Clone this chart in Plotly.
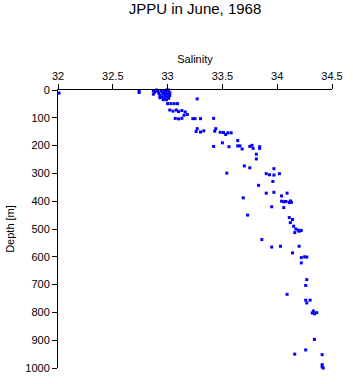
import plotly.graph_objects as go

salinity = [
    32.01, 32.74, 32.74,
    32.87, 32.88, 32.87, 32.90, 32.91, 32.92, 32.93, 32.94, 32.95, 32.95, 32.96, 32.97, 32.97,
    32.98, 32.98, 32.99, 33.00, 33.00, 33.00, 33.01, 33.01, 33.02, 32.96, 32.93, 32.99, 33.02,
    33.00, 33.03, 33.06, 33.09,
    33.02, 33.05, 33.08, 33.10, 33.13, 33.16,
    33.27, 33.15, 33.18,
    33.07, 33.10, 33.13, 33.23, 33.25, 33.30, 33.42,
    33.27, 33.26, 33.30, 33.33, 33.44, 33.43, 33.48, 33.51, 33.55, 33.58, 33.53,
    33.64, 33.50, 33.42, 33.56, 33.64, 33.66, 33.68, 33.75, 33.77, 33.78, 33.84, 33.84, 33.81, 33.81,
    33.70, 33.75, 33.97, 33.54, 33.90, 33.93, 33.97, 34.02, 33.96, 33.83, 33.90, 33.97, 34.09, 34.04, 33.69,
    34.04, 34.06, 34.08, 34.11, 34.12, 34.13, 33.95, 34.06, 33.73, 34.11, 34.14, 34.12, 34.15,
    34.17, 34.19, 34.20, 34.22, 34.16,
    33.86, 33.95, 34.03, 34.20, 34.14, 34.22, 34.25, 34.27, 34.22, 34.27, 34.26, 34.09,
    34.26, 34.27, 34.30, 34.33, 34.32, 34.34, 34.36,
    34.34, 34.26, 34.16, 34.41, 34.41, 34.41, 34.42, 34.43,
]
depth = [
    11, 3, 9,
    2, 8, 15, 0, 5, 12, 20, 3, 8, 25, 15, 30, 2,
    10, 20, 35, 5, 15, 25, 0, 30, 10, 35, 28, 0, 20,
    49, 49, 49, 49,
    72, 76, 72, 78, 74, 79,
    32, 91, 88,
    102, 104, 102, 103, 103, 103, 102,
    139, 149, 151, 147, 139, 148, 152, 153, 154, 154, 160,
    182, 190, 203, 204, 201, 201, 212, 203, 199, 210, 204, 210, 231, 248,
    273, 280, 283, 299, 301, 305, 306, 301, 329, 343, 371, 368, 371, 381, 388,
    400, 402, 401, 405, 399, 404, 420, 423, 450, 459, 466, 477, 490,
    500, 504, 508, 505, 513,
    538, 565, 562, 562, 586, 603, 600, 601, 622, 682, 703, 735,
    756, 766, 756, 795, 802, 805, 801,
    897, 935, 950, 952, 988, 996, 1000, 1003,
]

x_ticks = [32, 32.5, 33, 33.5, 34, 34.5]
x_ticktext = ["32", "32.5", "33", "33.5", "34", "34.5"]
y_ticks = [0, 100, 200, 300, 400, 500, 600, 700, 800, 900, 1000]

fig = go.Figure()
fig.add_trace(go.Scatter(
    x=salinity, y=depth, mode="markers",
    marker=dict(symbol="square", size=3, color="#0000ff", line=dict(width=0)),
    cliponaxis=False, showlegend=False,
))

font = "Liberation Sans, Arial, Helvetica, sans-serif"
fig.update_layout(
    width=353, height=384,
    margin=dict(l=54, r=14, t=90, b=10),
    paper_bgcolor="white", plot_bgcolor="white",
    font=dict(family=font, size=11, color="black"),
    title=dict(text="JPPU in June, 1968", x=0.5, xref="paper", xanchor="center",
               y=1 - 9 / 384, yref="container", yanchor="middle",
               font=dict(size=15, family=font)),
    xaxis=dict(
        side="top", range=[32, 34.5], tickvals=x_ticks, ticktext=x_ticktext,
        showgrid=False, zeroline=False, showline=True, linecolor="black", linewidth=1,
        ticks="outside", ticklen=5, tickcolor="black",
        title=dict(text="Salinity", standoff=3, font=dict(size=11)),
        tickfont=dict(size=11),
    ),
    yaxis=dict(
        range=[1000, 0], tickvals=y_ticks,
        showgrid=False, zeroline=False, showline=True, linecolor="black", linewidth=1,
        ticks="outside", ticklen=5, tickcolor="black",
        title=dict(text="Depth [m]", standoff=8, font=dict(size=11)),
        tickfont=dict(size=11),
    ),
)

fig.write_html("out.html")
